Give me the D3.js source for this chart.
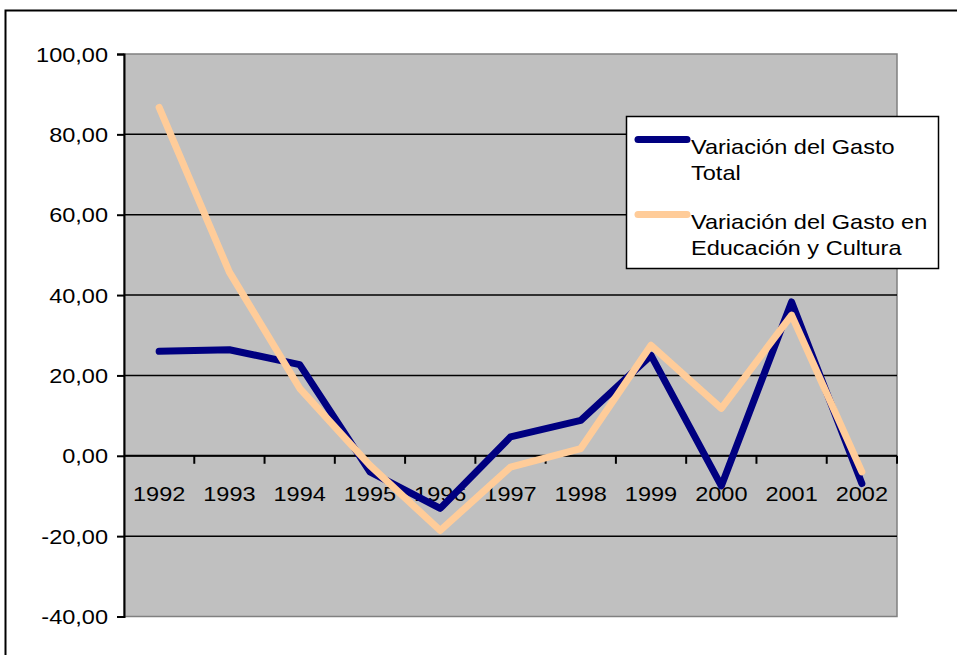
<!DOCTYPE html>
<html>
<head>
<meta charset="utf-8">
<script src="https://cdn.jsdelivr.net/npm/d3@7"></script>
<style>
  html, body { margin: 0; padding: 0; background: #fff; }
  svg { display: block; }
  text { font-family: "Liberation Sans", Arial, sans-serif; fill: #000; }
</style>
</head>
<body>
<svg id="chart" width="957" height="655"></svg>
<script>
// Years on the category axis
const years = ["1992","1993","1994","1995","1996","1997","1998","1999","2000","2001","2002"];
// Annual variation of total spending (%)
const gastoTotal = [26.0, 26.4, 22.7, -4.0, -13.1, 4.7, 8.8, 25.0, -7.5, 38.3, -6.9];
// Annual variation of education & culture spending (%)
const gastoEducacion = [86.7, 45.7, 16.8, -2.4, -18.6, -2.8, 1.8, 27.5, 11.8, 35.0, -4.0];
// Value axis ticks
const yTicks = [-40, -20, 0, 20, 40, 60, 80, 100];

const seriesColors = ["#000080", "#FFCC99"];
const FONT = 21;        // glyph height
const WIDEN = 1.12;     // horizontal stretch of the chart lettering

const svg = d3.select("#chart");

// Outer chart frame
svg.append("rect")
  .attr("x", 5.5).attr("y", 10.5)
  .attr("width", 960).attr("height", 660)
  .attr("fill", "#fff").attr("stroke", "#000").attr("stroke-width", 2);

const plot = { left: 124, right: 897, top: 54, bottom: 616.5 };

const x = d3.scaleBand().domain(years).range([plot.left, plot.right]).padding(0);
const y = d3.scaleLinear().domain([-40, 100]).range([plot.bottom, plot.top]);

// Plot background
svg.append("rect")
  .attr("x", plot.left).attr("y", plot.top)
  .attr("width", plot.right - plot.left).attr("height", plot.bottom - plot.top)
  .attr("fill", "#C0C0C0").attr("stroke", "#808080").attr("stroke-width", 1.5);

// Horizontal gridlines
svg.append("g").selectAll("line")
  .data(yTicks.filter(d => d !== -40 && d !== 100))
  .join("line")
  .attr("x1", plot.left).attr("x2", plot.right)
  .attr("y1", d => y(d)).attr("y2", d => y(d))
  .attr("stroke", "#000").attr("stroke-width", 1.5);

// Value axis (comma decimals, plain hyphen for negatives)
const yAxis = d3.axisLeft(y)
  .tickValues(yTicks)
  .tickSize(7)
  .tickPadding(9)
  .tickFormat(d => d.toFixed(2).replace(".", ","));
const gy = svg.append("g").attr("transform", `translate(${plot.left},0)`).call(yAxis);
gy.attr("font-size", null).attr("font-family", null);
gy.select(".domain").attr("stroke", "#000").attr("stroke-width", 2);
gy.selectAll(".tick line").attr("stroke", "#000").attr("stroke-width", 2);
gy.selectAll("text").attr("font-size", FONT).attr("fill", "#000").attr("dy", "0.34em");

// Category axis at zero, ticks between categories
const gx = svg.append("g").attr("transform", `translate(0,${y(0)})`);
gx.append("line")
  .attr("x1", plot.left).attr("x2", plot.right)
  .attr("stroke", "#000").attr("stroke-width", 2);
const boundaries = years.map(d => x(d)).slice(1).concat([plot.right]);
gx.selectAll("line.tk").data(boundaries).join("line")
  .attr("class", "tk")
  .attr("x1", d => d).attr("x2", d => d)
  .attr("y1", 0).attr("y2", 8)
  .attr("stroke", "#000").attr("stroke-width", 2);
gx.selectAll("text").data(years).join("text")
  .attr("x", d => x(d) + x.bandwidth() / 2)
  .attr("y", 45)
  .attr("text-anchor", "middle")
  .attr("font-size", FONT)
  .text(d => d);

// Series lines
const line = d3.line()
  .x((d, i) => x(years[i]) + x.bandwidth() / 2)
  .y(d => y(d));

[gastoTotal, gastoEducacion].forEach((vals, k) => {
  svg.append("path")
    .datum(vals)
    .attr("d", line)
    .attr("fill", "none")
    .attr("stroke", seriesColors[k])
    .attr("stroke-width", 7)
    .attr("stroke-linejoin", "round")
    .attr("stroke-linecap", "round");
});

// Legend
const lg = svg.append("g");
lg.append("rect")
  .attr("x", 626.5).attr("y", 116.5)
  .attr("width", 312).attr("height", 152)
  .attr("fill", "#fff").attr("stroke", "#000").attr("stroke-width", 1.5);

const legendLines = [["Variación del Gasto", "Total"], ["Variación del Gasto en", "Educación y Cultura"]];
const legendY = [139.5, 214.5];
legendLines.forEach((lines, k) => {
  lg.append("line")
    .attr("x1", 638).attr("x2", 687)
    .attr("y1", legendY[k]).attr("y2", legendY[k])
    .attr("stroke", seriesColors[k]).attr("stroke-width", 7)
    .attr("stroke-linecap", "round");
  lines.forEach((t, j) => {
    lg.append("text")
      .attr("x", 691)
      .attr("y", legendY[k] + 14.5 + j * 26)
      .attr("font-size", FONT)
      .text(t);
  });
});

// Widen every label horizontally
svg.selectAll("text").each(function () {
  const w = this.getComputedTextLength();
  d3.select(this)
    .attr("textLength", w * WIDEN)
    .attr("lengthAdjust", "spacingAndGlyphs");
});
</script>
</body>
</html>
